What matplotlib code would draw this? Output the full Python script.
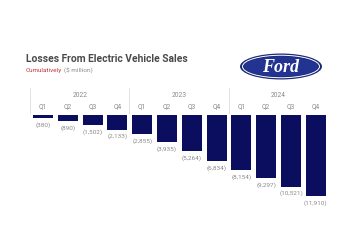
import matplotlib
matplotlib.use("Agg")
import matplotlib.pyplot as plt
from matplotlib.patches import Ellipse

years = ["2022", "2023", "2024"]
quarters = ["Q1", "Q2", "Q3", "Q4"]
losses = [380, 890, 1502, 2133, 2855, 3935, 5264, 6834, 8154, 9297, 10521, 11910]

W, H = 350, 250
fig = plt.figure(figsize=(3.5, 2.5), dpi=100)
fig.patch.set_facecolor("white")

def fx(px):
    return px / W

def fy(py):
    return 1 - py / H

# axes placement in pixels
pitch = 24.8
x0c = 43.0
ax_left, ax_right = 28, 334
ax_top, ax_bot = 115, 222
scale = 81.0 / 11910  # px per unit
ax = fig.add_axes([fx(ax_left), fy(ax_bot), (ax_right - ax_left) / W, (ax_bot - ax_top) / H])
ax.set_xlim((ax_left - x0c) / pitch, (ax_right - x0c) / pitch)
ax.set_ylim(-(ax_bot - ax_top) / scale, 0)
ax.axis("off")

navy = "#0b0e5e"
gray = "#8a8a8a"
xs = list(range(len(losses)))
vals = [-v for v in losses]
ax.bar(xs, vals, width=0.81, color=navy, align="center")

for x, v in zip(xs, losses):
    ax.annotate(f"({v:,})", xy=(x, -v), xytext=(0, -3), textcoords="offset points",
                ha="center", va="top", fontsize=4.6, color=gray, family="Roboto")

# quarter labels and year labels
def py_to_val(py):
    return (ax_top - py) / scale

for i, x in enumerate(xs):
    ax.text(x, py_to_val(107), quarters[i % 4], ha="center", va="center",
            fontsize=4.8, color=gray, family="Roboto", clip_on=False)
for j, y in enumerate(years):
    ax.text(j * 4 + 1.5, py_to_val(95.5), y, ha="center", va="center",
            fontsize=4.8, color=gray, family="Roboto", clip_on=False)
for sx in [-0.5, 3.5, 7.5]:
    ax.plot([sx - 0.02, sx - 0.02], [py_to_val(88), py_to_val(113)], color="#dddddd",
            lw=0.6, clip_on=False)

# title
fig.text(fx(26), fy(62.5), "Losses From Electric Vehicle Sales", fontsize=7.4,
         fontweight="bold", color="#4a4a4a", family="Roboto", va="baseline")
t1 = fig.text(fx(26), fy(71.7), "Cumulatively", fontsize=4.6, color="#c8323c",
              family="Roboto", va="baseline")
fig.canvas.draw()
bb = t1.get_window_extent()
fig.text(bb.x1 / W + fx(1.5), fy(71.7), "($ million)", fontsize=4.6, color=gray,
         family="Roboto", va="baseline")

# Ford logo
lax = fig.add_axes([0, 0, 1, 1], zorder=5)
lax.set_xlim(0, W)
lax.set_ylim(H, 0)
lax.axis("off")
lax.add_patch(Ellipse((281, 66.5), 82, 26, facecolor="#1b2a78", edgecolor="none"))
lax.add_patch(Ellipse((281, 66.5), 77, 22.5, facecolor="none", edgecolor="white", lw=0.7))
lax.add_patch(Ellipse((281, 66.5), 74, 20, facecolor="#223392", edgecolor="none"))
lax.text(281, 67, "Ford", ha="center", va="center", fontsize=13, color="white",
         family="Liberation Serif", style="italic", fontweight="bold")

fig.savefig("out.png", dpi=100)
